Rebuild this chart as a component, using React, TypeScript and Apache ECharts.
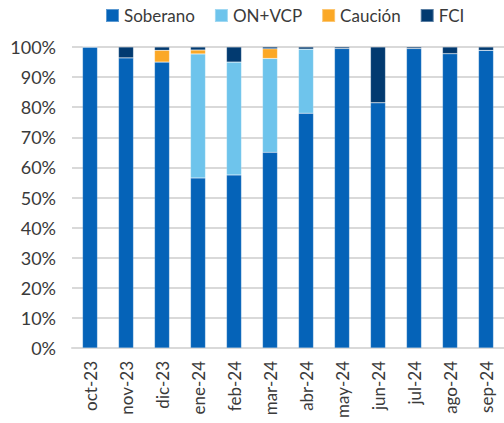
import React, { useEffect, useRef } from "react";
import * as echarts from "echarts";

const categories = ["oct-23", "nov-23", "dic-23", "ene-24", "feb-24", "mar-24", "abr-24", "may-24", "jun-24", "jul-24", "ago-24", "sep-24"];
const soberano = [100, 96.4, 95.0, 56.5, 57.5, 65.0, 78.0, 99.5, 81.5, 99.5, 97.8, 98.9];
const onVcp = [0, 0, 0, 41.2, 37.5, 31.2, 21.3, 0, 0, 0, 0, 0];
const caucion = [0, 0, 3.9, 1.3, 0, 3.2, 0, 0, 0, 0, 0, 0];
const fci = [0, 3.6, 1.1, 1.0, 5.0, 0.6, 0.7, 0.5, 18.5, 0.5, 2.2, 1.1];
const yTicks = [0, 10, 20, 30, 40, 50, 60, 70, 80, 90, 100];

export default function App() {
  const ref = useRef<HTMLDivElement>(null);
  useEffect(() => {
    const chart = echarts.init(ref.current!, null, { renderer: "svg" });
    const font = "Lato, 'Open Sans', sans-serif";
    const mk = (name: string, data: number[], color: string) => ({
      name,
      type: "bar",
      stack: "total",
      data,
      barWidth: 15,
      itemStyle: { color, borderColor: "rgba(255,255,255,0.35)", borderWidth: 0.5 },
    });
    chart.setOption({
      animation: false,
      textStyle: { fontFamily: font },
      legend: {
        top: 2,
        left: 100,
        itemWidth: 13,
        itemHeight: 13,
        itemGap: 19,
        icon: "rect",
        textStyle: { fontSize: 17, color: "#3a3a3a", fontFamily: font },
        data: ["Soberano", "ON+VCP", "Caución", "FCI"],
      },
      grid: { left: 72, right: 0, top: 47, bottom: 75 },
      xAxis: {
        type: "category",
        data: categories,
        axisLine: { lineStyle: { color: "#d9d9d9", width: 2 } },
        axisTick: { show: false },
        axisLabel: { rotate: 90, fontSize: 17, color: "#3a3a3a", margin: 13, fontFamily: font },
      },
      yAxis: {
        type: "value",
        min: 0,
        max: 100,
        interval: 10,
        axisLine: { show: false },
        axisTick: { show: false },
        splitLine: { lineStyle: { color: "#d9d9d9", width: 2 } },
        axisLabel: {
          fontSize: 18,
          color: "#3a3a3a",
          margin: 16,
          fontFamily: font,
          formatter: (v: number) => (yTicks.includes(v) ? v + "%" : ""),
        },
      },
      series: [
        mk("Soberano", soberano, "#0563B8"),
        mk("ON+VCP", onVcp, "#6EC4EC"),
        mk("Caución", caucion, "#FBA826"),
        mk("FCI", fci, "#023A70"),
      ],
    });
    return () => chart.dispose();
  }, []);
  return <div ref={ref} style={{ width: 504, height: 423, position: "absolute", left: 0, top: 0 }} />;
}
